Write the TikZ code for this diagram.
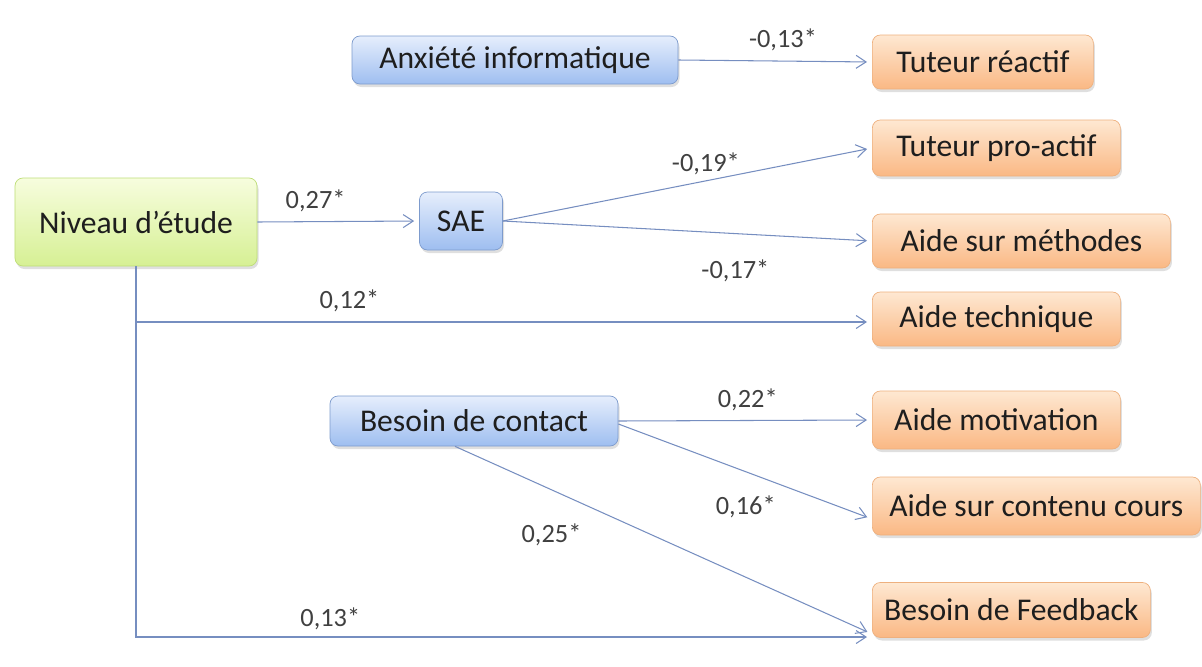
\documentclass[tikz,border=0pt]{standalone}
\usepackage{fontspec}
\setmainfont{Carlito}
\usepackage{xcolor}
\usetikzlibrary{arrows.meta,shadows,positioning}

\definecolor{blue-top}{RGB}{230,238,252}
\definecolor{blue-bot}{RGB}{158,190,240}
\definecolor{blue-line}{RGB}{125,155,205}
\definecolor{orng-top}{RGB}{254,232,210}
\definecolor{orng-bot}{RGB}{250,184,132}
\definecolor{orng-line}{RGB}{238,176,126}
\definecolor{gren-top}{RGB}{247,253,222}
\definecolor{gren-bot}{RGB}{214,240,148}
\definecolor{gren-line}{RGB}{190,222,120}
\definecolor{link-col}{RGB}{118,142,192}
\definecolor{ink}{RGB}{30,30,30}

\begin{document}
\begin{tikzpicture}
[
x=0.2mm, y=-0.2mm,
box-a/.style={rounded corners=1.6mm, inner sep=0mm, text=ink,
              font=\fontsize{18}{22}\selectfont,
              drop shadow={opacity=0.25, shadow xshift=0.3mm, shadow yshift=-0.6mm}},
box-b/.style={box-a, draw=blue-line, top color=blue-top, bottom color=blue-bot},
box-o/.style={box-a, draw=orng-line, top color=orng-top, bottom color=orng-bot, anchor=west},
box-g/.style={box-a, draw=gren-line, top color=gren-top, bottom color=gren-bot},
text-a/.style={text=ink!85, font=\fontsize{15}{17}\selectfont, inner sep=0.8mm},
link-a/.style={draw=link-col, line width=0.6pt, shorten >=1mm,
               -{Straight Barb[length=2mm, width=2.6mm, line width=0.6pt]}}
]
\useasboundingbox (0,0) rectangle (1202,666);

% sources
\node (niveau)     [box-g, minimum width=48.4mm, minimum height=17.6mm] at (136,222) {Niveau d'étude};
\node (anxiete)    [box-b, minimum width=65.2mm, minimum height=9.6mm ] at (515,60)  {Anxiété informatique};
\node (sae)        [box-b, minimum width=16.6mm, minimum height=11.6mm] at (461,221) {SAE};
\node (contact)    [box-b, minimum width=57.6mm, minimum height=10.0mm] at (474,421) {Besoin de contact};

% targets
\node (reactif)    [box-o, minimum width=44.2mm, minimum height=10.8mm] at (872,62)  {Tuteur réactif};
\node (proactif)   [box-o, minimum width=49.6mm, minimum height=11.2mm] at (872,148) {Tuteur pro-actif};
\node (methodes)   [box-o, minimum width=59.6mm, minimum height=10.8mm] at (872,241) {Aide sur méthodes};
\node (technique)  [box-o, minimum width=49.6mm, minimum height=10.8mm] at (872,319) {Aide technique};
\node (motivation) [box-o, minimum width=49.6mm, minimum height=11.6mm] at (872,420) {Aide motivation};
\node (contenu)    [box-o, minimum width=65.6mm, minimum height=11.6mm] at (872,506) {Aide sur contenu cours};
\node (feedback)   [box-o, minimum width=55.6mm, minimum height=11.0mm] at (872,610) {Besoin de Feedback};

% paths
\draw [link-a] (anxiete.east) -- (reactif.west)
      node [text-a, pos=0.54, above=1.1mm] {-0,13*};
\draw [link-a] (niveau.east) -- (sae.west)
      node [text-a, pos=0.36, above=1.1mm] {0,27*};
\draw [link-a] (sae.east) -- (proactif.west)
      node [text-a, pos=0.55, above=0.2mm] {-0,19*};
\draw [link-a] (sae.east) -- (methodes.west)
      node [text-a, pos=0.63, below=4.4mm] {-0,17*};
\draw [link-a] (niveau.south) |- ([yshift=-0.06cm]technique.west)
      node [text-a, pos=0.645, above=1.1mm] {0,12*};
\draw [link-a] (niveau.south) |- ([yshift=-0.54cm]feedback.west)
      node [text-a, pos=0.632, above=0.5mm] {0,13*};
\draw [link-a] (contact.east) -- (motivation.west)
      node [text-a, pos=0.51, above=1.1mm] {0,22*};
\draw [link-a] ([yshift=-0.06cm]contact.east) -- ([yshift=-0.26cm]contenu.west)
      node [text-a, pos=0.5, below left=4mm and -7mm] {0,16*};
\draw [link-a] ([xshift=-0.38cm]contact.south) -- ([yshift=-0.48cm]feedback.west)
      node [text-a, pos=0.23, below left=6mm and -7mm] {0,25*};
\end{tikzpicture}
\end{document}
